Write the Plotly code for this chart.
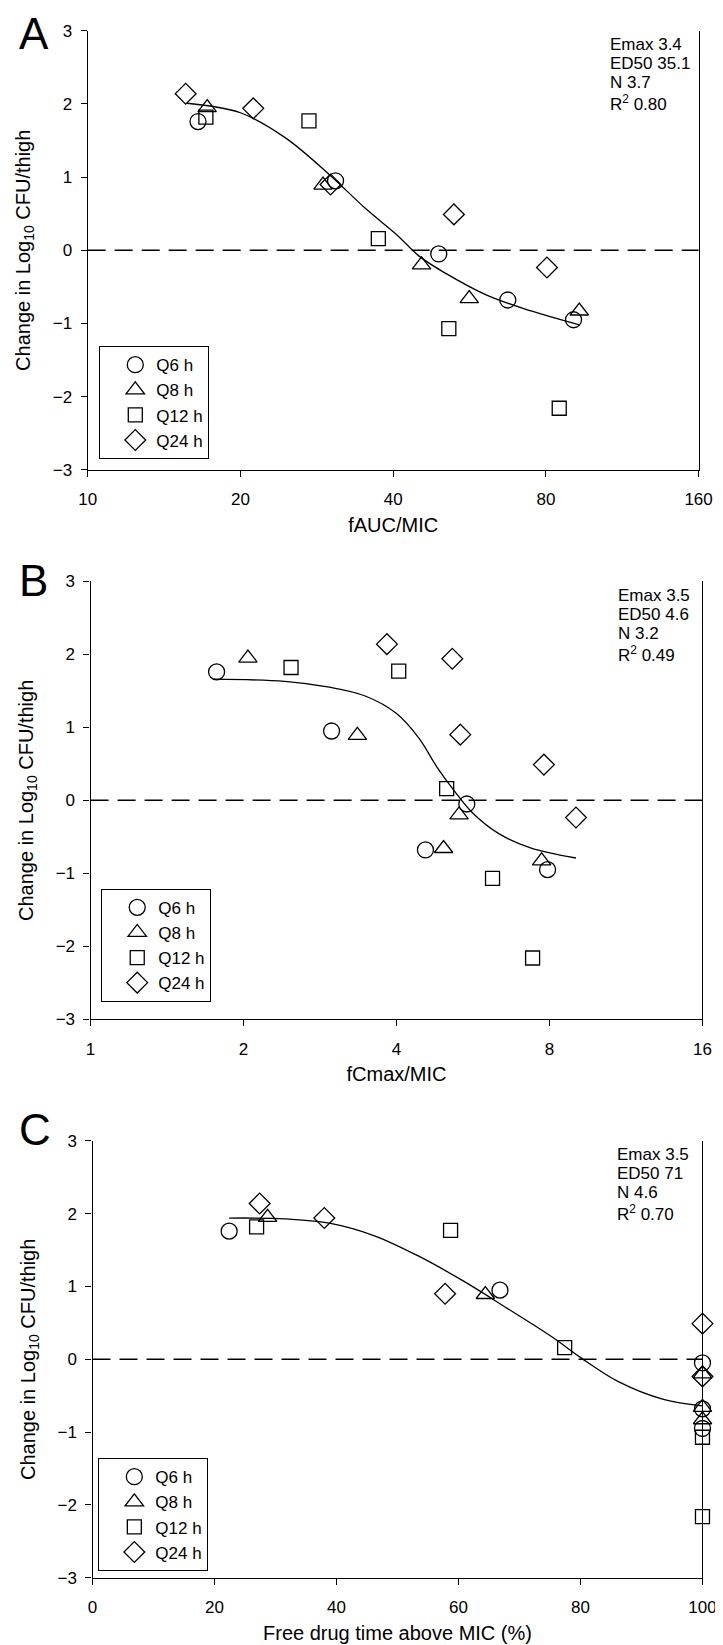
import plotly.graph_objects as go

W, H = 723, 1645
FONT = "Liberation Sans, Arial, sans-serif"

series_names = ["Q6 h", "Q8 h", "Q12 h", "Q24 h"]
series_symbols = ["circle-open", "triangle-up-open", "square-open", "diamond-open"]
series_sizes = [16, 16, 14, 16]

# Change in log10 CFU/thigh for each regimen (same animals in all panels)
q6_y = [1.76, 0.95, -0.05, -0.68, -0.95]
q8_y = [1.95, 0.89, -0.20, -0.66, -0.83]
q12_y = [1.82, 1.77, 0.16, -1.07, -2.16]
q24_y = [2.14, 1.94, 0.90, 0.49, -0.235]

# Panel A: fAUC/MIC
a_q6_x = [16.5, 30.8, 49.2, 67.3, 90.7]
a_q8_x = [17.2, 29.1, 45.5, 56.5, 93.1]
a_q12_x = [17.1, 27.3, 37.4, 51.5, 85.0]
a_q24_x = [15.6, 21.2, 30.1, 52.7, 80.4]
a_fit_x = [15.7, 20.0, 24.5, 30.0, 35.3, 40.7, 45.0, 50.9, 61.0, 74.8, 93.1]
a_fit_y = [2.01, 1.88, 1.54, 1.03, 0.57, 0.21, -0.08, -0.32, -0.61, -0.83, -1.02]
a_ticks = [10, 20, 40, 80, 160]
a_stats = ["Emax 3.4", "ED50 35.1", "N 3.7", "R<sup>2</sup> 0.80"]

# Panel B: fCmax/MIC
b_q6_x = [1.77, 2.98, 5.50, 4.56, 7.93]
b_q8_x = [2.04, 3.35, 5.31, 4.95, 7.72]
b_q12_x = [2.48, 4.04, 5.02, 6.18, 7.41]
b_q24_x = [3.83, 5.15, 5.34, 7.80, 9.02]
b_fit_x = [1.745, 2.41, 2.95, 3.47, 4.0, 4.43, 4.80, 5.21, 5.64, 6.37, 7.34, 9.02]
b_fit_y = [1.66, 1.63, 1.55, 1.43, 1.19, 0.85, 0.46, 0.12, -0.17, -0.46, -0.65, -0.79]
b_ticks = [1, 2, 4, 8, 16]
b_stats = ["Emax 3.5", "ED50 4.6", "N 3.2", "R<sup>2</sup> 0.49"]

# Panel C: free drug time above MIC (%)
c_q6_x = [22.4, 66.8, 100, 100, 100]
c_q8_x = [28.7, 64.4, 100, 100, 100]
c_q12_x = [26.9, 58.7, 77.4, 100, 100]
c_q24_x = [27.4, 38.0, 57.8, 100, 100]
c_fit_x = [22.4, 31.5, 38.8, 46.1, 53.4, 60.7, 68.0, 75.3, 80.1, 86.3, 93.6, 100]
c_fit_y = [1.94, 1.93, 1.87, 1.70, 1.42, 1.08, 0.70, 0.31, 0.02, -0.31, -0.55, -0.64]
c_ticks = [0, 20, 40, 60, 80, 100]
c_stats = ["Emax 3.5", "ED50 71", "N 4.6", "R<sup>2</sup> 0.70"]

y_ticks = [-3, -2, -1, 0, 1, 2, 3]
y_title = "Change in Log<sub>10</sub> CFU/thigh"

panels = [
    dict(letter="A", xs=[a_q6_x, a_q8_x, a_q12_x, a_q24_x], fx=a_fit_x, fy=a_fit_y,
         ticks=a_ticks, xtype="log", xrange=[1, 2.20412], xtitle="fAUC/MIC", stats=a_stats,
         box=(73, 704, 14, 458), legend=(85, 333), stat_x=610, letter_y=17),
    dict(letter="B", xs=[b_q6_x, b_q8_x, b_q12_x, b_q24_x], fx=b_fit_x, fy=b_fit_y,
         ticks=b_ticks, xtype="log", xrange=[0, 1.20412], xtitle="fCmax/MIC", stats=b_stats,
         box=(76, 708, 571, 1014), legend=(87, 882), stat_x=619, letter_y=570),
    dict(letter="C", xs=[c_q6_x, c_q8_x, c_q12_x, c_q24_x], fx=c_fit_x, fy=c_fit_y,
         ticks=c_ticks, xtype="linear", xrange=[0, 100], xtitle="Free drug time above MIC (%)",
         stats=c_stats, box=(78, 708, 1137, 1579), legend=(84, 1458), stat_x=618, letter_y=1125),
]
ys = [q6_y, q8_y, q12_y, q24_y]

fig = go.Figure()
annotations = []
shapes = []
layout = {}

for i, p in enumerate(panels):
    n = "" if i == 0 else str(i + 1)
    xa, ya = "x" + n, "y" + n
    leg = "legend" + n
    x0, x1, y0, y1 = p["box"]
    for k in range(4):
        fig.add_trace(go.Scatter(
            x=p["xs"][k], y=ys[k], mode="markers", name=series_names[k],
            xaxis=xa, yaxis=ya, legend=leg, cliponaxis=False,
            marker=dict(symbol=series_symbols[k], size=series_sizes[k], color="black",
                        line=dict(color="black", width=1.3)),
        ))
    fig.add_trace(go.Scatter(
        x=p["fx"], y=p["fy"], mode="lines", showlegend=False, xaxis=xa, yaxis=ya,
        line=dict(color="black", width=1.3, shape="spline"), hoverinfo="skip",
    ))
    axis_common = dict(showline=True, linecolor="black", linewidth=1.3, ticks="outside",
                       ticklen=6, tickwidth=1.3, tickcolor="black", showgrid=False,
                       zeroline=False, tickfont=dict(family=FONT, size=17, color="black"))
    layout["xaxis" + n] = dict(
        axis_common, type=p["xtype"], range=p["xrange"], anchor=ya,
        domain=[x0 / W, x1 / W], tickvals=p["ticks"], ticktext=[str(t) for t in p["ticks"]],
        ticklabelstandoff=8,
        title=dict(text=p["xtitle"], font=dict(family=FONT, size=20, color="black"), standoff=9),
    )
    layout["yaxis" + n] = dict(
        axis_common, range=[-3, 3], anchor=xa, mirror=True,
        domain=[1 - y1 / H, 1 - y0 / H], tickvals=y_ticks, ticklabelstandoff=5,
        title=dict(text=y_title, font=dict(family=FONT, size=20, color="black"), standoff=16),
    )
    lx, ly = p["legend"]
    layout[leg] = dict(x=lx / W, y=1 - ly / H, xanchor="left", yanchor="top",
                       bordercolor="black", borderwidth=1, bgcolor="rgba(255,255,255,0)",
                       indentation=14, itemwidth=32,
                       font=dict(family=FONT, size=17, color="black"))
    shapes.append(dict(type="line", xref=xa + " domain", yref=ya, x0=0, x1=1, y0=0, y1=0,
                       line=dict(color="black", width=1.5, dash="18px,9px")))
    offs = [14, 33.5, 52.5, 73]
    for t, o in zip(p["stats"], offs):
        annotations.append(dict(text=t, xref="paper", yref="paper", x=p["stat_x"] / W,
                                y=1 - (y0 + o) / H, xanchor="left", yanchor="middle",
                                showarrow=False,
                                font=dict(family=FONT, size=17, color="black")))
    annotations.append(dict(text=p["letter"], xref="paper", yref="paper", x=0,
                            y=1 - p["letter_y"] / H, xanchor="left", yanchor="middle",
                            showarrow=False, font=dict(family=FONT, size=44, color="black")))

fig.update_layout(
    width=W, height=H, margin=dict(l=0, r=0, t=0, b=0),
    paper_bgcolor="white", plot_bgcolor="white",
    font=dict(family=FONT, color="black"),
    annotations=annotations, shapes=shapes, **layout,
)
fig.write_html("out.html")
